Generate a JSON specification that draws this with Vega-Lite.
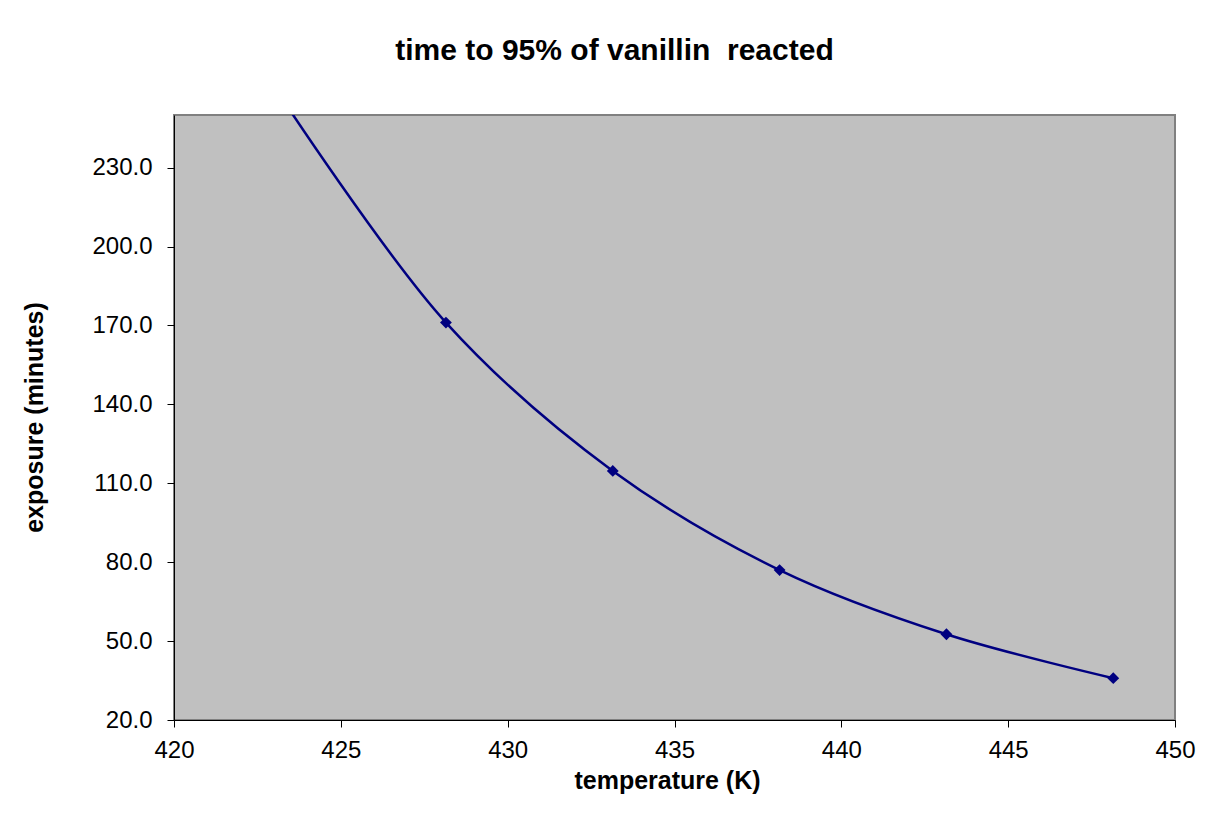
{
  "$schema": "https://vega.github.io/schema/vega-lite/v6.json",
  "width": 1001,
  "height": 605,
  "autosize": {"type": "none"},
  "padding": {"left": 174, "top": 115, "right": 31, "bottom": 119},
  "background": "white",
  "config": {
    "font": "Liberation Sans",
    "view": {"fill": "#C0C0C0", "stroke": "#808080", "strokeWidth": 2},
    "axis": {"grid": false, "labelFlush": false, "domainColor": "#000000", "tickColor": "#000000", "labelColor": "#000000", "titleColor": "#000000", "labelFont": "Liberation Sans", "titleFont": "Liberation Sans"}
  },
  "title": {
    "text": "time to 95% of vanillin\u00a0 reacted",
    "font": "Liberation Sans",
    "fontSize": 30,
    "fontWeight": "bold",
    "color": "#000000",
    "anchor": "middle",
    "baseline": "alphabetic",
    "offset": 25,
    "dx": -60
  },
  "data": {
    "values": [
      {"temperature": 423.15, "exposure": 258.0},
      {"temperature": 428.15, "exposure": 171.1},
      {"temperature": 433.15, "exposure": 114.7},
      {"temperature": 438.15, "exposure": 77.0},
      {"temperature": 443.15, "exposure": 52.6},
      {"temperature": 448.15, "exposure": 35.9}
    ]
  },
  "encoding": {
    "x": {
      "field": "temperature",
      "type": "quantitative",
      "scale": {"domain": [420, 450], "nice": false, "zero": false},
      "axis": {
        "title": "temperature (K)",
        "values": [420, 425, 430, 435, 440, 445, 450],
        "labelFontSize": 24,
        "labelPadding": 11,
        "tickSize": 7,
        "titleFontSize": 25,
        "titleFontWeight": "bold",
        "titleX": 493,
        "titleY": 60,
        "titleBaseline": "middle",
        "titleAlign": "center"
      }
    },
    "y": {
      "field": "exposure",
      "type": "quantitative",
      "scale": {"domain": [20, 250], "nice": false, "zero": false},
      "axis": {
        "title": "exposure (minutes)",
        "values": [20, 50, 80, 110, 140, 170, 200, 230],
        "format": ".1f",
        "labelFontSize": 24,
        "labelPadding": 15,
        "tickSize": 7,
        "titleFontSize": 25,
        "titleFontWeight": "bold",
        "titleAngle": 270,
        "titleX": -140,
        "titleY": 302,
        "titleBaseline": "middle",
        "titleAlign": "center"
      }
    }
  },
  "layer": [
    {
      "mark": {"type": "line", "color": "#000080", "strokeWidth": 2.5, "interpolate": "catmull-rom", "clip": true}
    },
    {
      "mark": {"type": "point", "shape": "diamond", "filled": true, "color": "#000080", "size": 140, "opacity": 1, "clip": true}
    }
  ]
}
